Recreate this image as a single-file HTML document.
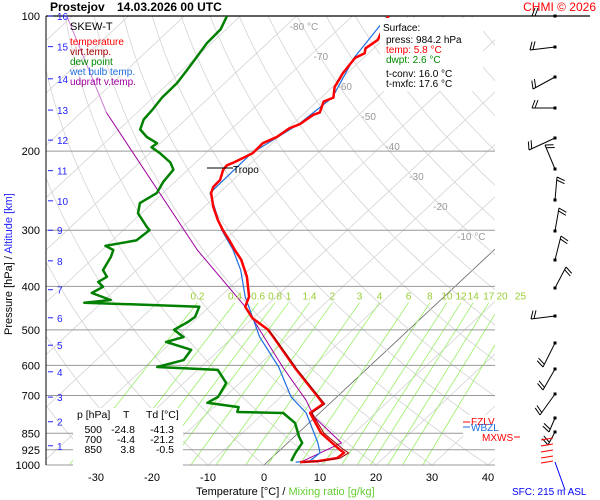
<!DOCTYPE html>
<html><head><meta charset="utf-8"><style>
html,body{margin:0;padding:0;background:#fff;}
svg{display:block;font-family:"Liberation Sans",sans-serif;}
</style></head><body>
<svg id="chart" width="600" height="500" viewBox="0 0 600 500">
<defs><clipPath id="plotclip"><rect x="46" y="16" width="449" height="449"/></clipPath></defs>
<rect x="0" y="0" width="600" height="500" fill="#fff"/>
<g id="grid" clip-path="url(#plotclip)"></g>
<g id="isobars"></g>
<g id="series" clip-path="url(#plotclip)"></g>
<g id="axes"></g>
<g id="barbs"></g>

<text x="50" y="11" font-size="12" font-weight="bold">Prostejov</text>
<text x="117" y="11" font-size="12" font-weight="bold">14.03.2026 00 UTC</text>
<text x="596" y="11" font-size="12" fill="#f00" text-anchor="end">CHMI © 2026</text>

<g>
<text x="70" y="30" font-size="11" fill="#000">SKEW-T</text>
<text x="70" y="45" font-size="10" fill="#f00">temperature</text>
<text x="70" y="55" font-size="10" fill="#a00000">virt.temp.</text>
<text x="70" y="65" font-size="10" fill="#080">dew point</text>
<text x="70" y="75" font-size="10" fill="#1e6ee0">wet bulb temp.</text>
<text x="70" y="85" font-size="10" fill="#a000a0">udpraft v.temp.</text>
</g>

<g>
<rect x="380" y="18" width="103" height="73" fill="#fff"/>
<text x="383" y="31" font-size="10">Surface:</text>
<text x="386" y="43" font-size="10">press: 984.2 hPa</text>
<text x="386" y="53" font-size="10" fill="#f00">temp: 5.8 °C</text>
<text x="386" y="63" font-size="10" fill="#080">dwpt: 2.6 °C</text>
<text x="386" y="77" font-size="10">t-conv: 16.0 °C</text>
<text x="386" y="87" font-size="10">t-mxfc: 17.6 °C</text>
</g>

<g font-size="10.5">
<rect x="73" y="408" width="110" height="58" fill="#fff"/>
<text x="77" y="418">p [hPa]</text><text x="123" y="418">T</text><text x="146" y="418">Td [°C]</text>
<text x="102" y="433" text-anchor="end">500</text><text x="135" y="433" text-anchor="end">-24.8</text><text x="174" y="433" text-anchor="end">-41.3</text>
<text x="102" y="443" text-anchor="end">700</text><text x="135" y="443" text-anchor="end">-4.4</text><text x="174" y="443" text-anchor="end">-21.2</text>
<text x="102" y="453" text-anchor="end">850</text><text x="135" y="453" text-anchor="end">3.8</text><text x="174" y="453" text-anchor="end">-0.5</text>
</g>

<g>
<line x1="207" y1="168" x2="233" y2="168" stroke="#000" stroke-width="1"/>
<text x="233" y="173" font-size="10">Tropo</text>
</g>

<g font-size="10">
<rect x="463" y="415" width="38" height="28" fill="#fff"/>
<line x1="463" y1="422" x2="470" y2="422" stroke="#f00"/><text x="471" y="425" fill="#f00">FZLV</text>
<line x1="463" y1="427" x2="470" y2="427" stroke="#1e6ee0"/><text x="471" y="431" fill="#1e6ee0">WBZL</text>
<text x="482" y="441" fill="#f00">MXWS</text><line x1="514" y1="437" x2="520" y2="437" stroke="#f00"/>
</g>

<text x="512" y="495" font-size="10" fill="#00f">SFC: 215 m ASL</text>
<line x1="555" y1="462" x2="565" y2="490" stroke="#00f" stroke-width="1"/>

<text x="196" y="495" font-size="11">Temperature [°C]  /  <tspan fill="#6c3">Mixing ratio [g/kg]</tspan></text>
<text transform="translate(12,335) rotate(-90)" font-size="11">Pressure [hPa]  /  <tspan fill="#22f">Altitude [km]</tspan></text>

<script>
// ---- data ----
const tempP = [985,980,965,940,921,849,766,731,705,608,599,521,500,471,444,422,381,349,332,316,300,285,266,248,240,232,220,215,212,207,202,192,186,178,174,166,164,155,152,144,134,124,121,118,113,107,101,100];
const tempT = [5.9,8.9,11.7,12.0,10.3,4.1,-1.7,-1.1,-3.4,-13.0,-13.9,-22.5,-25.1,-30.1,-33.6,-34.8,-39.0,-43.3,-46.3,-49.1,-52.2,-55.0,-58.4,-61.4,-62.2,-62.3,-63.7,-63.9,-63.2,-62.4,-61.6,-61.7,-60.4,-59.8,-58.7,-58.1,-57.4,-58.8,-57.8,-59.6,-60.8,-61.5,-60.7,-61.5,-60.9,-62.1,-63.4,-63.5];
const dewP = [980,940,893,866,806,766,762,743,727,705,657,614,605,584,554,532,519,500,480,468,444,435,429,414,401,391,381,368,344,332,325,316,300,295,275,261,248,234,220,212,202,196,192,186,179,170,162,152,141,132,124,115,107,100];
const dewT = [4.1,3.3,2.6,0.9,-2.5,-6.5,-14.9,-15.6,-22.0,-21.2,-22.4,-26.4,-37.8,-34.4,-35.0,-41.0,-38.8,-41.9,-40.9,-40.6,-41.8,-63.1,-58.9,-63.6,-62.8,-64.6,-64.0,-66.0,-67.1,-68.0,-70.2,-65.7,-65.3,-66.4,-70.6,-72.2,-71.1,-72.1,-72.6,-74.5,-78.2,-80.8,-80.6,-83.6,-86.2,-87.5,-87.8,-88.4,-88.5,-89.2,-89.9,-90.8,-91.0,-92.4];
const wetP = [985,980,940,893,766,705,605,519,422,368,332,300,248,202,174,152,124,100];
const wetT = [5.1,7.4,7.7,5.4,-2.4,-8.2,-16.1,-25.2,-35.5,-41.4,-46.6,-52.4,-61.6,-61.8,-58.9,-58.0,-61.7,-63.7];
const virtP = [985,980,965,940,921,849,766,731,705,608,599,521,500];
const virtT = [6.5,9.5,12.3,12.8,11.0,4.6,-1.4,-0.8,-3.2,-12.8,-13.7,-22.4,-25.0];
const updP = [985,893,782,717,608,444,332,164];
const updT = [6.0,9.6,-0.2,-4.9,-15.1,-33.6,-53.0,-95.5];
const updHighP = [164,100];
const updHighT = [-95.5,-121];
const isobarLevels = [100,200,300,400,500,600,700,850,925,1000];
const tempTicks = [-30,-20,-10,0,10,20,30,40];
const isoLabelT = [-80,-70,-60,-50,-40,-30,-20,-10];
const mixRatios = [0.2,0.4,0.6,0.8,1,1.4,2,3,4,6,8,10,12,14,17,20,25];
const altKm = [16,15,14,13,12,11,10,9,8,7,6,5,4,3,2,1];
const altPress = [100,117,138,162,189,221,258,300,351,407,470,541,620,706,801,906];

// ---- axis functions ----
const Y0=465, YSPAN=449, X0=264, DX=5.6, SKEW=1.07;
function yP(p){return Y0 - YSPAN*Math.log10(1000/p);}
function xT(t,p){return X0 + DX*t + SKEW*(Y0-yP(p));}
const NS='http://www.w3.org/2000/svg';
function mk(tag,attrs,parent){const e=document.createElementNS(NS,tag);for(const k in attrs)e.setAttribute(k,attrs[k]);parent.appendChild(e);return e;}
const grid=document.getElementById('grid'), iso=document.getElementById('isobars'), ser=document.getElementById('series'), ax=document.getElementById('axes'), bb=document.getElementById('barbs');

for(let t=-160;t<=50;t+=10){
  const l=mk('line',{x1:xT(t,1000),y1:yP(1000),x2:xT(t,100),y2:yP(100),stroke:t===0?'#666':'#d4d4d4','stroke-width':0.8},grid);
  
  
}
for(let th=-40;th<=220;th+=10){
  let d='';
  for(let p=1000;p>=100;p-=10){const T=(th+273.15)*Math.pow(p/1000,0.2857)-273.15;d+=(p===1000?'M':'L')+xT(T,p).toFixed(1)+','+yP(p).toFixed(1);}
  const a=mk('path',{d:d,fill:'none',stroke:'#d4d4d4','stroke-width':0.8},grid);
  
  
}
function tdFromW(w,p){const e=w*p/(622+w);const L=Math.log(e/6.112);return 243.5*L/(17.67-L);}
mixRatios.forEach(w=>{
  const pt=435;
  const l=mk('line',{x1:xT(tdFromW(w,1000),1000),y1:yP(1000),x2:xT(tdFromW(w,pt),pt),y2:yP(pt),stroke:'#9e6','stroke-width':0.8},grid);
  
  
  const tx=mk('text',{x:xT(tdFromW(w,pt),pt),y:yP(pt)-3,'font-size':10,fill:'#9c3','text-anchor':'middle'},ax);
  tx.textContent=String(w);
  
  
});
isoLabelT.forEach((t,i)=>{
  const p=100*Math.pow(10,(i*30+10)/449);
  const tx=mk('text',{x:xT(t,p)+4,y:yP(p)+4,'font-size':10,fill:'#999'},ax);
  tx.textContent=(i===0||i===isoLabelT.length-1)?t+' °C':String(t);
  
  
});
isobarLevels.forEach(p=>{
  const l=mk('line',{x1:46,y1:yP(p),x2:p===100?590:495,y2:yP(p),stroke:p===100?'#000':'#999','stroke-width':p===100?1.2:1},iso);
  
  
  const tx=mk('text',{x:40,y:yP(p)+4,'font-size':11,'text-anchor':'end'},ax);
  tx.textContent=String(p);
  
  
});
mk('line',{x1:46,y1:16,x2:46,y2:465,stroke:'#000','stroke-width':1},ax);
tempTicks.forEach(t=>{
  const tx=mk('text',{x:xT(t,1000),y:481,'font-size':11,'text-anchor':'middle'},ax);
  tx.textContent=String(t);
  
  
});
altKm.forEach((k,i)=>{
  const y=yP(altPress[i]);
  mk('line',{x1:48,y1:y,x2:53,y2:y,stroke:'#22f','stroke-width':1},ax);
  const tx=mk('text',{x:57,y:y+4,'font-size':10,fill:'#22f'},ax);
  tx.textContent=String(k);
  
  
});
function series(P,T,color,w,name){
  let d='';P.forEach((p,i)=>{d+=(i?'L':'M')+xT(T[i],p).toFixed(1)+','+yP(p).toFixed(1);});
  const e=mk('path',{d:d,fill:'none',stroke:color,'stroke-width':w,'stroke-linejoin':'round'},ser);
  
  
}
series(updHighP,updHighT,'#d080d8',1,'updraft-virtual-temp-upper-line');
series(updP,updT,'#a000a0',1,'updraft-virtual-temp-line');
series(wetP,wetT,'#1e6ee0',1.2,'wet-bulb-line');
series(dewP,dewT,'#008000',2.5,'dew-point-line');
series(tempP,tempT,'#f00',2.5,'temperature-line');
series(virtP,virtT,'#a00000',1,'virtual-temp-line');

const barbDots=[16,47,77,108,138,169,200,231,260,288,316,343,369,394,418,432];
const barbShafts=[[532,16],[530,50],[533,89],[532,108],[529,150],[545,145],[557,177],[559,208],[561,236],[566,267],[531,319],[543,367],[543,390],[540,415],[549,432],[548,445]];
barbDots.forEach((y,i)=>{
  const s=barbShafts[i];
  const l=mk('line',{x1:555,y1:y,x2:s[0],y2:s[1],stroke:'#000','stroke-width':1},bb);
  
  
  mk('rect',{x:553.5,y:y-1.5,width:3,height:3,fill:'#000'},bb);
  const dx=s[0]-555, dy=s[1]-y, len=Math.hypot(dx,dy)||1;
  const nx=-dy/len*8, ny=dx/len*8;
  for(let k=0;k<2;k++){
    const fx=s[0]-dx/len*3*k, fy=s[1]-dy/len*3*k;
    mk('line',{x1:fx,y1:fy,x2:fx+nx-dx/len*3,y2:fy+ny-dy/len*3,stroke:'#000','stroke-width':1},bb);
  }
});
[440,446,452,458,463].forEach(y=>{mk('line',{x1:541,y1:y,x2:553,y2:y-2,stroke:'#f00','stroke-width':1},bb);});
</script>
</svg>
</body></html>
